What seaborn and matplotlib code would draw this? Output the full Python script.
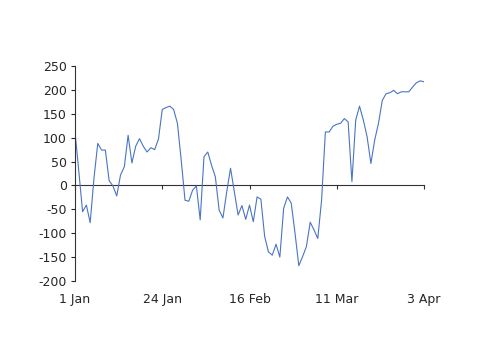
import matplotlib
matplotlib.use("Agg")
import matplotlib.pyplot as plt
import matplotlib.dates as mdates
import seaborn as sns
import pandas as pd
import numpy as np

start_date = "2009-01-01"
values = [112, 30, -55, -41, -78, 15, 88, 74, 74, 10, -1,
          -22, 22, 39, 105, 47, 82, 98, 82, 70, 79, 75, 97,
          159, 163, 166, 159, 130, 53, -31, -33, -10, -1, -72,
          60, 70, 42, 18, -52, -68, -13, 36, -13, -62, -42, -71,
          -41, -76, -24, -29, -107, -139, -146, -123, -150, -48, -24, -37,
          -100, -168, -149, -128, -77, -93, -111, -31, 112, 112, 124, 128,
          130, 140, 133, 8, 137, 166, 137, 102, 46, 95, 130,
          178, 192, 194, 199, 192, 196, 196, 196, 206, 215, 219, 217]
tick_dates = ["2009-01-01", "2009-01-24", "2009-02-16", "2009-03-11", "2009-04-03"]
tick_labels = ["1 Jan", "24 Jan", "16 Feb", "11 Mar", "3 Apr"]
y_ticks = [-200, -150, -100, -50, 0, 50, 100, 150, 200, 250]

dates = pd.date_range(start_date, periods=len(values), freq="D")
df = pd.DataFrame({"date": dates, "value": values})

sns.set_style("white")
plt.rcParams["font.family"] = ["DejaVu Sans"]
plt.rcParams["axes.unicode_minus"] = False

fig = plt.figure(figsize=(5.0, 3.53), dpi=100)
ax = fig.add_axes([0.15, 0.204, 0.698, 0.609])

sns.lineplot(data=df, x="date", y="value", ax=ax, color="#4a74c4", linewidth=0.8)

ymin, ymax = y_ticks[0], y_ticks[-1]
ax.set_ylim(ymin, ymax)
ax.set_xlim(dates[0], dates[-1])
ax.set_yticks(y_ticks)
ax.set_yticklabels([str(v) for v in y_ticks], fontsize=9)

tick_dt = pd.to_datetime(tick_dates)
ax.set_xticks(tick_dt)
ax.set_xticklabels(tick_labels, fontsize=9)
ax.tick_params(axis="x", length=0, pad=9)
ax.tick_params(axis="y", length=3, width=0.8, direction="out", pad=3, left=True)

ax.set_xlabel("")
ax.set_ylabel("")
for s in ["top", "right", "bottom"]:
    ax.spines[s].set_visible(False)
ax.spines["left"].set_color("#333333")
ax.spines["left"].set_linewidth(0.8)

# zero axis line with tick marks
zero_frac = (0 - ymin) / (ymax - ymin)
sec = ax.secondary_xaxis(zero_frac)
sec.set_xticks(tick_dt)
sec.set_xticklabels([])
sec.tick_params(axis="x", length=3, width=0.8, direction="out", color="#333333")
sec.spines["bottom"].set_color("#333333")
sec.spines["bottom"].set_linewidth(0.8)
for s in ["top", "left", "right"]:
    sec.spines[s].set_visible(False)
sec.xaxis.set_ticks_position("bottom")
sec.spines["bottom"].set_visible(True)

fig.savefig("out.png", dpi=100, facecolor="white")
